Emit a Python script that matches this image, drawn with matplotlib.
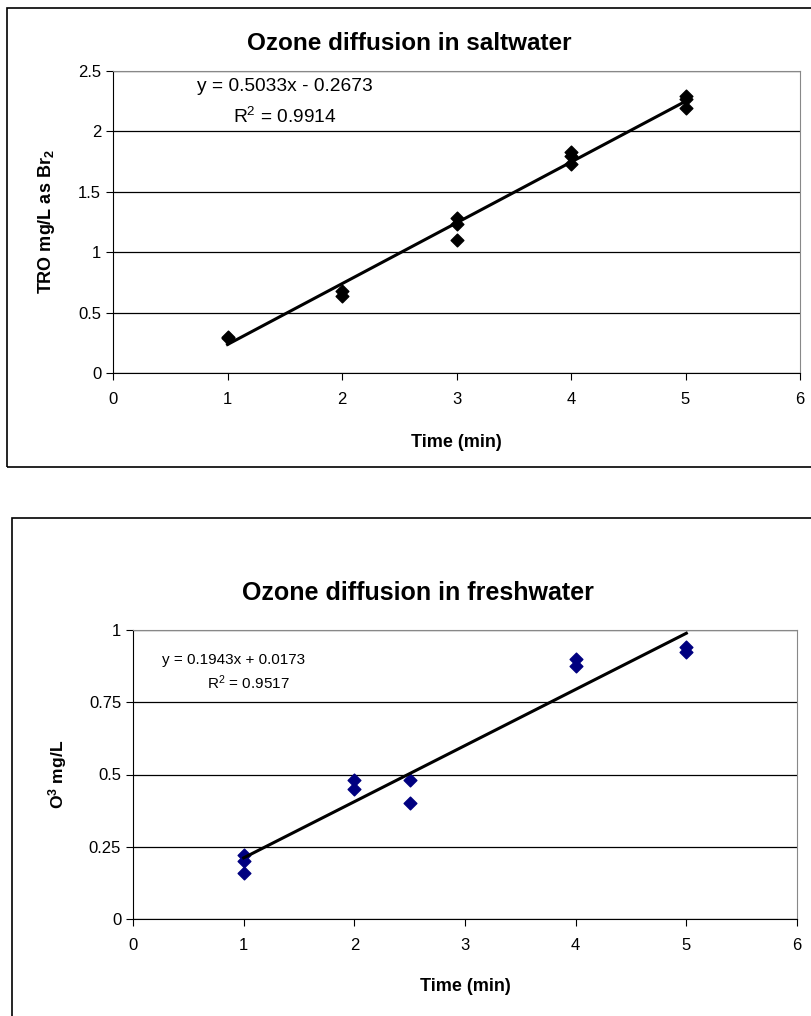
import matplotlib
matplotlib.use('Agg')
import matplotlib.pyplot as plt
from matplotlib.patches import Rectangle
import numpy as np

plt.rcParams['font.family'] = ['Liberation Sans', 'DejaVu Sans']
plt.rcParams['mathtext.default'] = 'regular'

# saltwater data (TRO mg/L as Br2)
salt_time = [1, 1, 2, 2, 3, 3, 3, 4, 4, 4, 5, 5, 5]
salt_tro = [0.30, 0.29, 0.68, 0.64, 1.28, 1.23, 1.10, 1.83, 1.80, 1.73, 2.29, 2.27, 2.19]
salt_fit = (0.5033, -0.2673)

# freshwater data (O3 mg/L)
fresh_time = [1, 1, 1, 2, 2, 2.5, 2.5, 4, 4, 5, 5]
fresh_o3 = [0.22, 0.20, 0.16, 0.48, 0.45, 0.48, 0.40, 0.90, 0.875, 0.94, 0.925]
fresh_fit = (0.1943, 0.0173)

W, H = 811, 1016
fig = plt.figure(figsize=(W / 100, H / 100), dpi=100)


def px_axes(l, t, r, b):
    return fig.add_axes([l / W, 1 - b / H, (r - l) / W, (b - t) / H])


# chart frames
fig.patches.append(Rectangle((7 / W, 1 - 467 / H), 1, (467 - 8) / H,
                             transform=fig.transFigure, fill=False,
                             edgecolor='black', lw=1.2))
fig.patches.append(Rectangle((12 / W, -0.05), 1, 1 - 518 / H + 0.05,
                             transform=fig.transFigure, fill=False,
                             edgecolor='black', lw=1.2))


def style(ax, yticks, ylabels):
    ax.set_xlim(0, 6)
    ax.set_xticks(range(7))
    ax.set_yticks(yticks)
    ax.set_yticklabels(ylabels)
    ax.set_ylim(yticks[0], yticks[-1])
    ax.grid(axis='y', color='black', lw=0.9)
    ax.set_axisbelow(True)
    for s in ['top', 'right']:
        ax.spines[s].set_color('#888888')
    ax.spines['left'].set_color('black')
    ax.spines['bottom'].set_color('black')
    ax.tick_params(direction='out', length=5, labelsize=12, color='black')
    ax.tick_params(axis='x', pad=9)


# top chart
ax1 = px_axes(113, 71, 800, 373)
style(ax1, [0, 0.5, 1, 1.5, 2, 2.5], ['0', '0.5', '1', '1.5', '2', '2.5'])
ax1.scatter(salt_time, salt_tro, marker='D', s=42, color='black', zorder=3)
xs = np.array([min(salt_time), max(salt_time)])
ax1.plot(xs, salt_fit[0] * xs + salt_fit[1], color='black', lw=2.2, zorder=4)
fig.text(409 / W, 1 - 43 / H, 'Ozone diffusion in saltwater', fontsize=17.5,
         fontweight='bold', ha='center', va='center')
ax1.set_xlabel('Time (min)', fontsize=13, fontweight='bold', labelpad=19)
ax1.set_ylabel('TRO mg/L as Br$_2$', fontsize=13, fontweight='bold', labelpad=15)
ax1.text(1.5, 2.37, 'y = 0.5033x - 0.2673', ha='center', va='center', fontsize=13.8)
ax1.text(1.5, 2.12, 'R$^2$ = 0.9914', ha='center', va='center', fontsize=13.8)

# bottom chart
ax2 = px_axes(133, 630, 797, 919)
style(ax2, [0, 0.25, 0.5, 0.75, 1], ['0', '0.25', '0.5', '0.75', '1'])
ax2.scatter(fresh_time, fresh_o3, marker='D', s=42, color='#000080', zorder=3)
xs = np.array([min(fresh_time), max(fresh_time)])
ax2.plot(xs, fresh_fit[0] * xs + fresh_fit[1], color='black', lw=2.2, zorder=4)
fig.text(418 / W, 1 - 593 / H, 'Ozone diffusion in freshwater', fontsize=18,
         fontweight='bold', ha='center', va='center')
ax2.set_xlabel('Time (min)', fontsize=13, fontweight='bold', labelpad=18)
ax2.set_ylabel('O$^3$ mg/L', fontsize=12.6, fontweight='bold', labelpad=14)
ax2.text(0.91, 0.895, 'y = 0.1943x + 0.0173', ha='center', va='center', fontsize=11)
ax2.text(1.04, 0.817, 'R$^2$ = 0.9517', ha='center', va='center', fontsize=11)

fig.savefig('out.png', dpi=100)
